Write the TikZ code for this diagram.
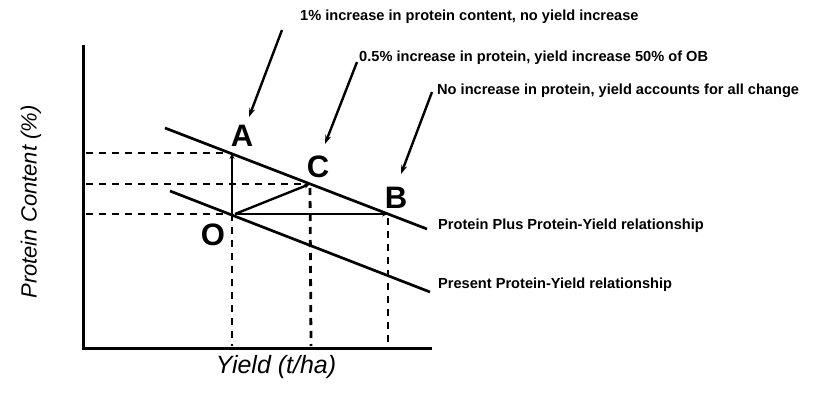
\documentclass[tikz,border=0pt]{standalone}
\usepackage{fontspec}
\setmainfont{Liberation Sans}
\usetikzlibrary{arrows.meta}
\begin{document}
\begin{tikzpicture}[x=1pt,y=-1pt,
  axis/.style={line width=3pt},
  rel/.style={line width=2.7pt},
  guide/.style={line width=2.8pt, dash pattern=on 7pt off 6pt},
  vec/.style={line width=2.4pt,-{Stealth[length=6pt,width=5pt]}},
  pointer/.style={line width=2.4pt,-{Stealth[length=9pt,width=6pt]}},
  pt/.style={font=\bfseries\fontsize{31}{31}\selectfont, inner sep=0pt},
  note/.style={font=\bfseries\fontsize{14.6}{15}\selectfont, anchor=west, inner sep=0pt},
  axlab/.style={font=\itshape\fontsize{22}{22}\selectfont, inner sep=0pt}]
\useasboundingbox (0,0) rectangle (818,409);
% axes
\coordinate (origin) at (83,348);
\coordinate (ytop) at (83,45);
\coordinate (xend) at (432,348);
\draw[axis] (ytop) -- (origin) -- (xend);
% points
\coordinate (O) at (232,214);
\coordinate (A) at (232,153);
\coordinate (C) at (310,184);
\coordinate (B) at (388,214);
% guide lines
\coordinate (yA) at (86,153);
\coordinate (yC) at (86,184);
\coordinate (yO) at (86,214);
\coordinate (xO) at (232,346);
\coordinate (xC) at (311,346);
\coordinate (xB) at (388,346);
\draw[guide] (yA) -- (A);
\draw[guide] (yC) -- (C);
\draw[guide] (yO) -- (O);
\draw[guide] (O) -- (xO);
\draw[guide] ([yshift=-4pt]C) -- (xC);
\draw[guide] ([yshift=-4pt]B) -- (xB);
% relationships
\coordinate (u1) at (165,128);
\coordinate (u2) at (427,229);
\coordinate (l1) at (170,191);
\coordinate (l2) at (430,292);
\draw[rel] (u1) -- (u2);
\draw[rel] (l1) -- (l2);
% vectors
\draw[vec] (O) -- (A);
\draw[vec] ([xshift=3pt]O) -- (C);
\draw[vec] ([xshift=3pt]O) -- (B);
% point labels
\node[pt] (Alab) at (242,136) {A};
\node[pt] (Clab) at (318,167) {C};
\node[pt] (Blab) at (396,198) {B};
\node[pt] (Olab) at (213,235) {O};
% notes
\node[note] (n1) at (300,17) {1\% increase in protein content, no yield increase};
\node[note] (n2) at (359,58) {0.5\% increase in protein, yield increase 50\% of OB};
\node[note] (n3) at (437,91) {No increase in protein, yield accounts for all change};
\node[note] (n4) at (438,226) {Protein Plus Protein-Yield relationship};
\node[note] (n5) at (438,285) {Present Protein-Yield relationship};
\coordinate (p1s) at (282,30);
\coordinate (p1e) at (249,117);
\coordinate (p2s) at (357,62);
\coordinate (p2e) at (325,144);
\coordinate (p3s) at (432,92);
\coordinate (p3e) at (401,174);
\draw[pointer] (p1s) -- (p1e);
\draw[pointer] (p2s) -- (p2e);
\draw[pointer] (p3s) -- (p3e);
% axis labels
\node[axlab, rotate=90] (ylab) at (31,202) {Protein Content (\%)};
\node[axlab, font=\itshape\fontsize{25}{25}\selectfont] (xlab) at (276,367) {Yield (t/ha)};
\end{tikzpicture}
\end{document}
